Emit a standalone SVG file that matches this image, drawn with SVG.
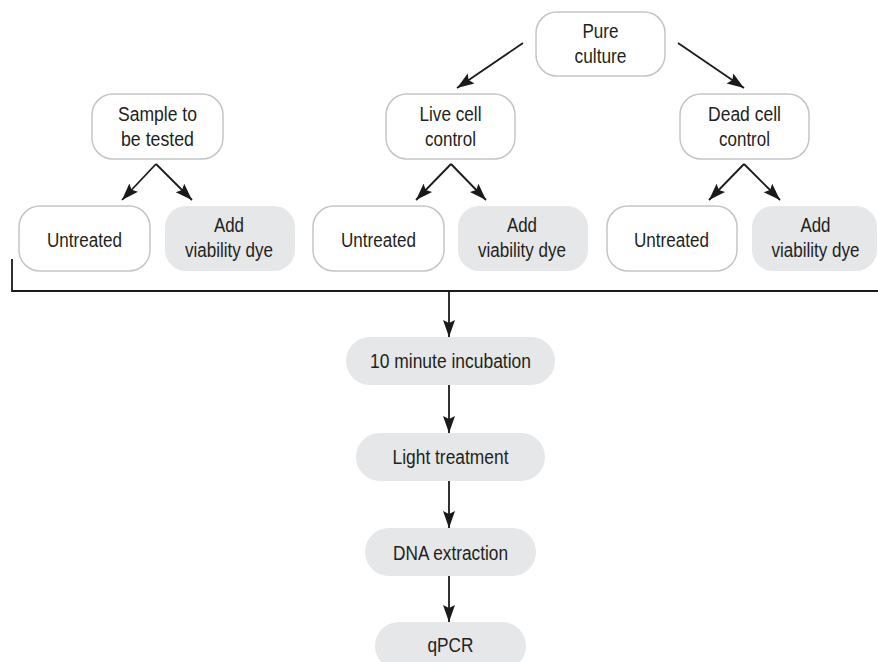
<svg xmlns="http://www.w3.org/2000/svg" width="878" height="662" viewBox="0 0 878 662">
<style>
.box{fill:#ffffff;stroke:#c4c5c7;stroke-width:1.5}
.gbox{fill:#e6e7e8;stroke:none}
.t{font-family:"Liberation Sans",Arial,sans-serif;font-size:20px;fill:#231f20;text-anchor:middle}
.c{fill:none;stroke:#1a1a1a;stroke-width:1.8}
</style>
<defs>
<marker id="ah" markerUnits="userSpaceOnUse" markerWidth="18" markerHeight="14" viewBox="0 0 18 14" refX="17" refY="7" orient="auto">
<path d="M0,1 L17,7 L0,13 L3,7 Z" fill="#1a1a1a"/>
</marker>
</defs>
<rect width="878" height="662" fill="#ffffff"/>
<g id="connectors">
<line class="c" x1="523" y1="43" x2="457" y2="88" marker-end="url(#ah)"/>
<line class="c" x1="678" y1="43" x2="744" y2="88" marker-end="url(#ah)"/>
<line class="c" x1="156" y1="164" x2="122" y2="200" marker-end="url(#ah)"/>
<line class="c" x1="156" y1="164" x2="192" y2="200" marker-end="url(#ah)"/>
<line class="c" x1="451" y1="164" x2="416" y2="200" marker-end="url(#ah)"/>
<line class="c" x1="451" y1="164" x2="486" y2="200" marker-end="url(#ah)"/>
<line class="c" x1="744" y1="164" x2="709" y2="200" marker-end="url(#ah)"/>
<line class="c" x1="744" y1="164" x2="780" y2="200" marker-end="url(#ah)"/>
<polyline class="c" points="12,259 12,291 878,291"/>
<line class="c" x1="449" y1="291" x2="449" y2="337" marker-end="url(#ah)"/>
<line class="c" x1="449" y1="385" x2="449" y2="433" marker-end="url(#ah)"/>
<line class="c" x1="449" y1="481" x2="449" y2="528" marker-end="url(#ah)"/>
<line class="c" x1="449" y1="576" x2="449" y2="622" marker-end="url(#ah)"/>
</g>
<g id="pure-culture">
<rect class="box" x="536" y="12" width="129" height="64" rx="21"/>
<text class="t" x="600.5" y="38" textLength="36" lengthAdjust="spacingAndGlyphs">Pure</text>
<text class="t" x="600.5" y="63" textLength="52" lengthAdjust="spacingAndGlyphs">culture</text>
</g>
<g id="sample">
<rect class="box" x="92" y="94" width="131" height="65" rx="21"/>
<text class="t" x="157.5" y="121" textLength="79" lengthAdjust="spacingAndGlyphs">Sample to</text>
<text class="t" x="157.5" y="146" textLength="73" lengthAdjust="spacingAndGlyphs">be tested</text>
</g>
<g id="live-control">
<rect class="box" x="386" y="94" width="129" height="65" rx="21"/>
<text class="t" x="450.5" y="121" textLength="62" lengthAdjust="spacingAndGlyphs">Live cell</text>
<text class="t" x="450.5" y="146" textLength="51" lengthAdjust="spacingAndGlyphs">control</text>
</g>
<g id="dead-control">
<rect class="box" x="680" y="94" width="129" height="65" rx="21"/>
<text class="t" x="744.5" y="121" textLength="73" lengthAdjust="spacingAndGlyphs">Dead cell</text>
<text class="t" x="744.5" y="146" textLength="51" lengthAdjust="spacingAndGlyphs">control</text>
</g>
<g id="untreated-1">
<rect class="box" x="19" y="206" width="131" height="65" rx="21"/>
<text class="t" x="84.5" y="247" textLength="75" lengthAdjust="spacingAndGlyphs">Untreated</text>
</g>
<g id="dye-1">
<rect class="gbox" x="165" y="206" width="130" height="65" rx="21"/>
<text class="t" x="229" y="232" textLength="30" lengthAdjust="spacingAndGlyphs">Add</text>
<text class="t" x="229" y="257" textLength="88" lengthAdjust="spacingAndGlyphs">viability dye</text>
</g>
<g id="untreated-2">
<rect class="box" x="313" y="206" width="131" height="65" rx="21"/>
<text class="t" x="378.5" y="247" textLength="75" lengthAdjust="spacingAndGlyphs">Untreated</text>
</g>
<g id="dye-2">
<rect class="gbox" x="458" y="206" width="130" height="65" rx="21"/>
<text class="t" x="522" y="232" textLength="30" lengthAdjust="spacingAndGlyphs">Add</text>
<text class="t" x="522" y="257" textLength="88" lengthAdjust="spacingAndGlyphs">viability dye</text>
</g>
<g id="untreated-3">
<rect class="box" x="607" y="206" width="130" height="65" rx="21"/>
<text class="t" x="671.5" y="247" textLength="75" lengthAdjust="spacingAndGlyphs">Untreated</text>
</g>
<g id="dye-3">
<rect class="gbox" x="752" y="206" width="125" height="65" rx="21"/>
<text class="t" x="815.5" y="232" textLength="30" lengthAdjust="spacingAndGlyphs">Add</text>
<text class="t" x="815.5" y="257" textLength="88" lengthAdjust="spacingAndGlyphs">viability dye</text>
</g>
<g id="incubation">
<rect class="gbox" x="346" y="337" width="209" height="48" rx="24"/>
<text class="t" x="450.5" y="368" textLength="161" lengthAdjust="spacingAndGlyphs">10 minute incubation</text>
</g>
<g id="light">
<rect class="gbox" x="356" y="433" width="189" height="48" rx="24"/>
<text class="t" x="450.5" y="464" textLength="116" lengthAdjust="spacingAndGlyphs">Light treatment</text>
</g>
<g id="dna">
<rect class="gbox" x="365" y="528" width="171" height="48" rx="24"/>
<text class="t" x="450.5" y="559.5" textLength="115" lengthAdjust="spacingAndGlyphs">DNA extraction</text>
</g>
<g id="qpcr">
<rect class="gbox" x="375" y="622" width="151" height="48" rx="24"/>
<text class="t" x="450.5" y="652" textLength="46" lengthAdjust="spacingAndGlyphs">qPCR</text>
</g>
</svg>
